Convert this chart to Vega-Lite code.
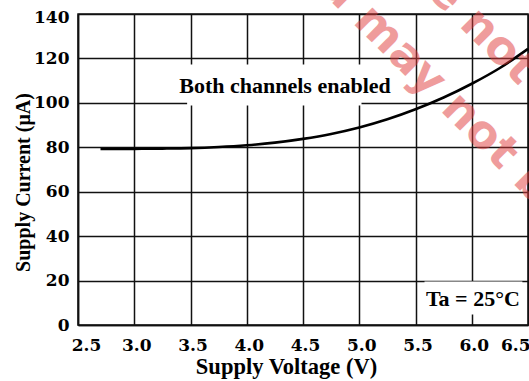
{
  "$schema": "https://vega.github.io/schema/vega-lite/v6.json",
  "width": 450,
  "height": 311,
  "autosize": {"type": "none"},
  "padding": {"left": 78, "top": 14, "right": 1, "bottom": 56},
  "background": "white",
  "config": {"view": {"stroke": "#111111", "strokeWidth": 1.5}},
  "datasets": {
    "curve": [
      {"voltage": 2.7, "current": 79.2},
      {"voltage": 3.0, "current": 79.3},
      {"voltage": 3.25, "current": 79.4},
      {"voltage": 3.5, "current": 79.6},
      {"voltage": 3.75, "current": 80.1},
      {"voltage": 4.0, "current": 80.9},
      {"voltage": 4.25, "current": 82.1},
      {"voltage": 4.5, "current": 83.8},
      {"voltage": 4.75, "current": 86.0},
      {"voltage": 5.0, "current": 88.9},
      {"voltage": 5.25, "current": 92.6},
      {"voltage": 5.5, "current": 97.1},
      {"voltage": 5.75, "current": 102.4},
      {"voltage": 6.0, "current": 108.6},
      {"voltage": 6.25, "current": 115.7},
      {"voltage": 6.5, "current": 124.3}
    ],
    "boxes": [
      {"voltage": 3.47, "voltage_end": 5.02, "current": 98.8, "current_end": 117.3},
      {"voltage": 5.58, "voltage_end": 6.45, "current": 4.7, "current_end": 19.6}
    ],
    "notes": [
      {"label": "Both channels enabled", "voltage": 4.34, "current": 107.5},
      {"label": "Ta = 25°C", "voltage": 6.01, "current": 11.9}
    ],
    "watermark": [
      {"label": "e not", "voltage": 6.09, "current": 133.0},
      {"label": "a may not b", "voltage": 5.69, "current": 106.9}
    ]
  },
  "encoding": {
    "x": {"field": "voltage", "type": "quantitative", "scale": {"domain": [2.5, 6.5], "nice": false, "zero": false},
      "axis": {
        "title": "Supply Voltage (V)",
        "values": [2.5, 3, 3.5, 4, 4.5, 5, 5.5, 6, 6.5],
        "format": ".1f",
        "grid": true, "gridColor": "#111111", "gridWidth": 1.5, "gridOpacity": 1,
        "domainColor": "#111111", "domainWidth": 1.5,
        "ticks": false,
        "labelFont": "DejaVu Serif", "labelFontWeight": "bold", "labelFontSize": 17, "labelColor": "black",
        "labelPadding": 12,
        "labelAlign": {"condition": {"test": "datum.value === 6.5", "value": "right"}, "value": "center"},
        "labelOffset": {"condition": {"test": "datum.value === 2.5", "value": 8}, "value": 2},
        "titleFont": "Liberation Serif", "titleFontSize": 22.5, "titleFontWeight": "bold", "titleColor": "black",
        "titleX": 208, "titleY": 48, "titleBaseline": "alphabetic", "titleAlign": "center"
      }},
    "y": {"field": "current", "type": "quantitative", "scale": {"domain": [0, 140], "nice": false},
      "axis": {
        "title": "Supply Current (μA)",
        "values": [0, 20, 40, 60, 80, 100, 120, 140],
        "grid": true, "gridColor": "#111111", "gridWidth": 1.5, "gridOpacity": 1,
        "domainColor": "#111111", "domainWidth": 1.5,
        "ticks": false,
        "labelFont": "DejaVu Serif", "labelFontWeight": "bold", "labelFontSize": 17, "labelColor": "black",
        "labelPadding": 9,
        "labelOffset": {"condition": {"test": "datum.value === 140", "value": 3}, "value": 0},
        "titleFont": "Liberation Serif", "titleFontSize": 20, "titleFontWeight": "bold", "titleColor": "black",
        "titleX": -49, "titleY": 168, "titleBaseline": "alphabetic", "titleAlign": "center", "titleAngle": -90
      }}
  },
  "layer": [
    {
      "data": {"name": "boxes"},
      "mark": {"type": "rect", "fill": "white", "stroke": null},
      "encoding": {
        "x2": {"field": "voltage_end"},
        "y2": {"field": "current_end"}
      }
    },
    {
      "data": {"name": "curve"},
      "mark": {"type": "line", "color": "black", "strokeWidth": 2.6, "interpolate": "monotone"}
    },
    {
      "data": {"name": "notes"},
      "mark": {"type": "text", "font": "Liberation Serif", "fontWeight": "bold", "fontSize": 22, "color": "black", "align": "center", "baseline": "middle"},
      "encoding": {
        "text": {"field": "label"}
      }
    },
    {
      "data": {"name": "watermark"},
      "mark": {"type": "text", "font": "DejaVu Sans", "fontWeight": "bold", "fontSize": 46, "angle": 45, "color": "#e03c3c", "opacity": 0.5, "align": "center", "baseline": "middle"},
      "encoding": {
        "text": {"field": "label"}
      }
    }
  ]
}
